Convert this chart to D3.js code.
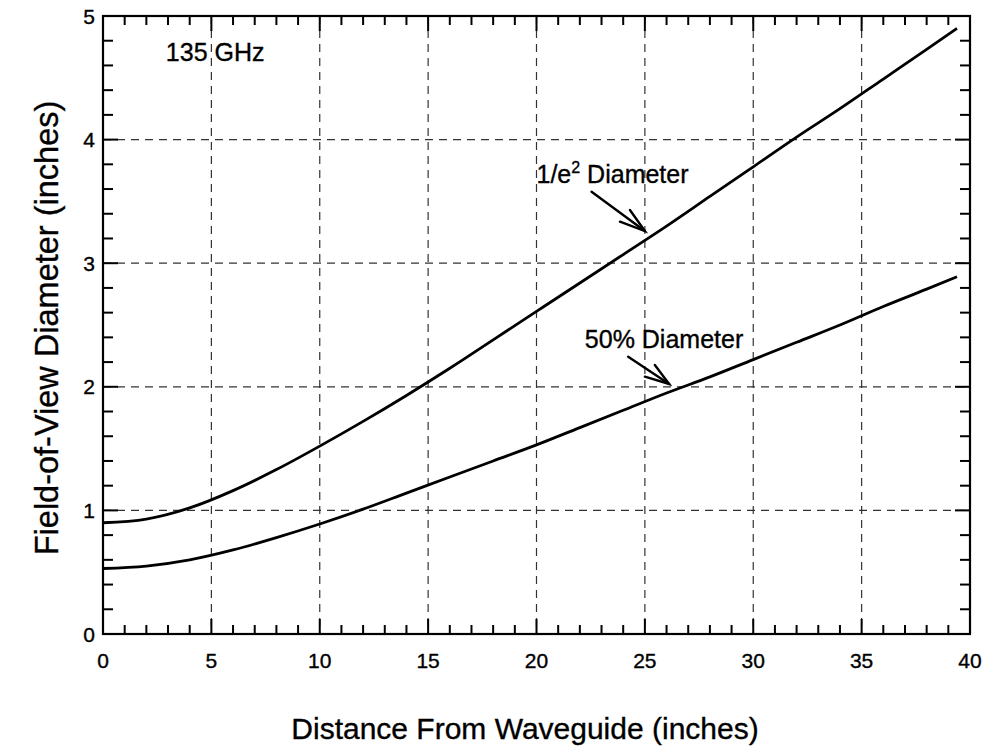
<!DOCTYPE html>
<html>
<head>
<meta charset="utf-8">
<script src="https://cdn.jsdelivr.net/npm/d3@7"></script>
<style>
  html, body { margin: 0; padding: 0; background: #fff; }
  svg { display: block; font-family: "Liberation Sans", Arial, Helvetica, sans-serif; }
  svg text { stroke: #000; stroke-width: 0.35px; }
</style>
</head>
<body>
<svg id="chart" width="986" height="748"></svg>
<script>
// ---- data ----
const distance   = [0, 2, 4, 6, 8, 10, 12, 14, 16, 18, 20, 22, 24, 26, 28, 30, 32, 34, 36, 38, 39.4];
const diamOneE2  = [0.90, 0.93, 1.02, 1.16, 1.33, 1.52, 1.72, 1.93, 2.15, 2.38, 2.61, 2.84, 3.07, 3.30, 3.54, 3.78, 4.02, 4.25, 4.49, 4.73, 4.90];
const diamHalf   = [0.53, 0.55, 0.60, 0.68, 0.78, 0.89, 1.01, 1.14, 1.27, 1.40, 1.53, 1.67, 1.81, 1.95, 2.08, 2.22, 2.36, 2.50, 2.65, 2.79, 2.89];
const xTickLabels = [0, 5, 10, 15, 20, 25, 30, 35, 40];
const yTickLabels = [0, 1, 2, 3, 4, 5];
const seriesNames = ["1/e² Diameter", "50% Diameter"];
const freqLabel = "135 GHz";
const xTitle = "Distance From Waveguide (inches)";
const yTitle = "Field-of-View Diameter (inches)";

(function () {
// ---- layout ----
const svg = d3.select("#chart");
const mLeft = 103, mRight = 970, mTop = 16, mBottom = 634;
const x = d3.scaleLinear().domain([0, 40]).range([mLeft, mRight]);
const y = d3.scaleLinear().domain([0, 5]).range([mBottom, mTop]);
const font = '"Liberation Sans", Arial, Helvetica, sans-serif';

// grid
const g = svg.append("g");
g.selectAll(".vgrid").data(xTickLabels.filter(d => d > 0 && d < 40)).enter()
  .append("line")
  .attr("x1", d => x(d)).attr("x2", d => x(d))
  .attr("y1", mTop).attr("y2", mBottom)
  .attr("stroke", "#333").attr("stroke-width", 1.2).attr("stroke-dasharray", "8,6");
g.selectAll(".hgrid").data(yTickLabels.filter(d => d > 0 && d < 5)).enter()
  .append("line")
  .attr("x1", mLeft).attr("x2", mRight)
  .attr("y1", d => y(d)).attr("y2", d => y(d))
  .attr("stroke", "#333").attr("stroke-width", 1.2).attr("stroke-dasharray", "8,6");

// ticks (inward on all four sides)
const xMinor = d3.range(0, 41, 1);
const yMinor = d3.range(0, 25.01, 1).map(d => d / 5);
const tickG = svg.append("g").attr("stroke", "#000").attr("stroke-width", 2);
xMinor.forEach(v => {
  const len = (v % 5 === 0) ? 15 : 9;
  tickG.append("line").attr("x1", x(v)).attr("x2", x(v)).attr("y1", mBottom).attr("y2", mBottom - len);
  tickG.append("line").attr("x1", x(v)).attr("x2", x(v)).attr("y1", mTop).attr("y2", mTop + len);
});
yMinor.forEach(v => {
  const major = Math.abs(v - Math.round(v)) < 1e-6;
  const len = major ? 15 : 10;
  tickG.append("line").attr("x1", mLeft).attr("x2", mLeft + len).attr("y1", y(v)).attr("y2", y(v));
  tickG.append("line").attr("x1", mRight).attr("x2", mRight - len).attr("y1", y(v)).attr("y2", y(v));
});

// frame
svg.append("rect")
  .attr("x", mLeft).attr("y", mTop)
  .attr("width", mRight - mLeft).attr("height", mBottom - mTop)
  .attr("fill", "none").attr("stroke", "#000").attr("stroke-width", 2.2);

// tick labels
svg.append("g").selectAll("text").data(xTickLabels).enter()
  .append("text")
  .attr("x", d => x(d)).attr("y", 668)
  .attr("text-anchor", "middle")
  .attr("font-size", 21).attr("font-family", font).attr("fill", "#000")
  .text(d => d);
svg.append("g").selectAll("text").data(yTickLabels).enter()
  .append("text")
  .attr("x", 95).attr("y", d => y(d) + 7.5)
  .attr("text-anchor", "end")
  .attr("font-size", 21).attr("font-family", font).attr("fill", "#000")
  .text(d => d);

// axis titles
svg.append("text")
  .attr("x", 525).attr("y", 739)
  .attr("text-anchor", "middle")
  .attr("font-size", 30).attr("font-family", font).attr("fill", "#000")
  .text(xTitle);
svg.append("text")
  .attr("transform", `translate(58, ${328}) rotate(-90)`)
  .attr("text-anchor", "middle")
  .attr("font-size", 32.5).attr("font-family", font).attr("fill", "#000")
  .text(yTitle);

// curves
const line = d3.line().curve(d3.curveMonotoneX)
  .x(d => x(d[0])).y(d => y(d[1]));
[diamOneE2, diamHalf].forEach(vals => {
  svg.append("path")
    .datum(distance.map((d, i) => [d, vals[i]]))
    .attr("d", line)
    .attr("fill", "none").attr("stroke", "#000").attr("stroke-width", 2.8)
    .attr("stroke-linejoin", "round");
});

// frequency label
svg.append("text")
  .attr("x", x(2.9)).attr("y", y(4.636))
  .attr("font-size", 25).attr("font-family", font).attr("fill", "#000")
  .text(freqLabel);

// series annotations
const ann1 = svg.append("text")
  .attr("x", x(20.0)).attr("y", y(3.65))
  .attr("font-size", 25).attr("font-family", font).attr("fill", "#000");
ann1.append("tspan").text("1/e");
ann1.append("tspan").attr("dy", -10).attr("font-size", 16).text("2");
ann1.append("tspan").attr("dy", 10).text(" Diameter");

svg.append("text")
  .attr("x", x(22.23)).attr("y", y(2.314))
  .attr("font-size", 25).attr("font-family", font).attr("fill", "#000")
  .text(seriesNames[1]);

// arrows (shaft + two barbs), in data units
function arrow(start, tip, w1, w2) {
  const a = svg.append("g").attr("stroke", "#000").attr("stroke-width", 2.4)
    .attr("fill", "none").attr("stroke-linecap", "round");
  a.append("line").attr("x1", x(start[0])).attr("y1", y(start[1])).attr("x2", x(tip[0])).attr("y2", y(tip[1]));
  a.append("path").attr("d",
    `M${x(w1[0])},${y(w1[1])} L${x(tip[0])},${y(tip[1])} L${x(w2[0])},${y(w2[1])}`)
    .attr("stroke-linejoin", "miter");
}
arrow([22.54, 3.578], [25.0, 3.26], [23.85, 3.336], [24.31, 3.43]);
arrow([24.23, 2.243], [26.12, 2.023], [25.0, 2.082], [25.46, 2.176]);
})();
</script>
</body>
</html>
